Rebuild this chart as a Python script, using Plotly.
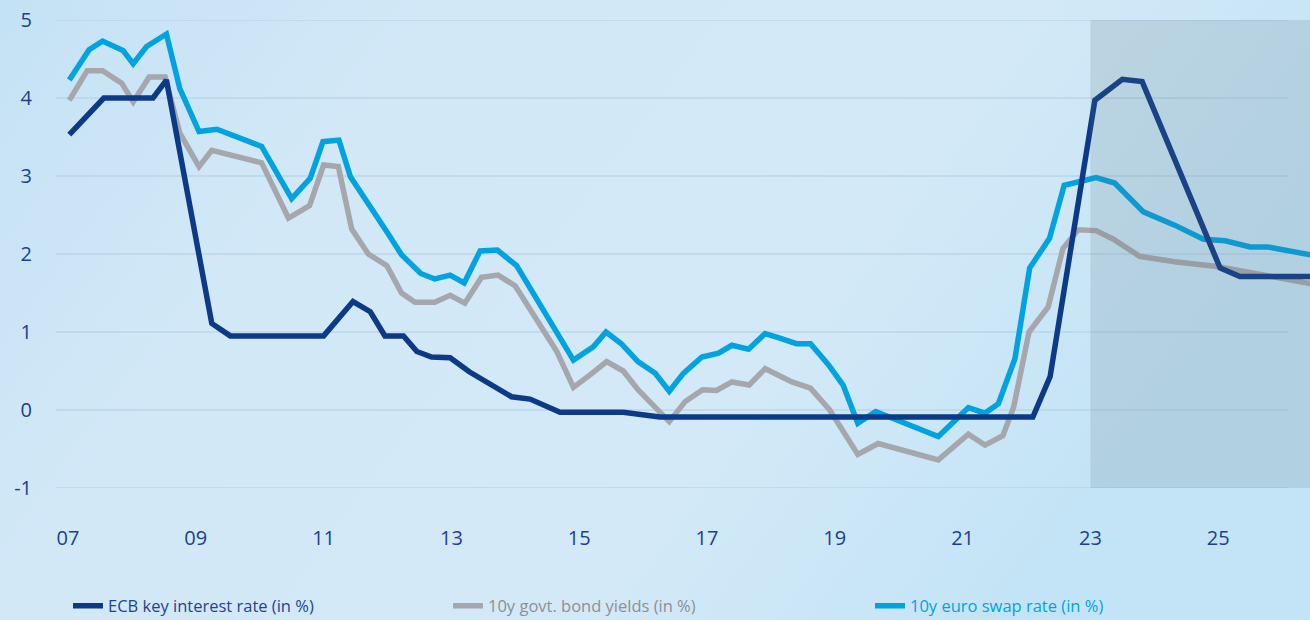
import base64
import plotly.graph_objects as go

# ---------------- data ----------------
ecb_x = [2007.02, 2007.56, 2008.33, 2008.54, 2009.25, 2009.54, 2011.00, 2011.46, 2011.73,
         2011.96, 2012.25, 2012.46, 2012.69, 2012.98, 2013.28, 2013.55, 2013.94, 2014.23,
         2014.70, 2015.69, 2016.26, 2022.10, 2022.37, 2023.07, 2023.50, 2023.81, 2025.03,
         2025.34, 2026.44]
ecb_y = [3.53, 4.00, 4.00, 4.23, 1.11, 0.95, 0.95, 1.39, 1.26,
         0.95, 0.95, 0.75, 0.68, 0.67, 0.49, 0.36, 0.17, 0.14,
         -0.03, -0.03, -0.09, -0.09, 0.43, 3.97, 4.24, 4.21, 1.82,
         1.71, 1.71]

govt_x = [2007.02, 2007.30, 2007.54, 2007.84, 2008.02, 2008.27, 2008.52, 2008.75, 2009.05,
          2009.25, 2010.03, 2010.45, 2010.78, 2011.00, 2011.23, 2011.44, 2011.70, 2011.99,
          2012.22, 2012.43, 2012.74, 2012.98, 2013.21, 2013.47, 2013.73, 2014.00, 2014.65,
          2014.91, 2015.17, 2015.43, 2015.69, 2015.92, 2016.16, 2016.41, 2016.66, 2016.93,
          2017.15, 2017.39, 2017.66, 2017.91, 2018.33, 2018.62, 2018.92, 2019.36, 2019.68,
          2019.99, 2020.33, 2020.62, 2021.09, 2021.35, 2021.63, 2021.80, 2022.04, 2022.34,
          2022.57, 2022.81, 2023.09, 2023.36, 2023.77, 2024.32, 2024.98, 2025.55, 2026.44]
govt_y = [3.97, 4.35, 4.35, 4.19, 3.95, 4.27, 4.27, 3.55, 3.12,
          3.33, 3.17, 2.46, 2.62, 3.14, 3.12, 2.32, 2.00, 1.85,
          1.50, 1.38, 1.38, 1.47, 1.37, 1.70, 1.73, 1.59, 0.75,
          0.29, 0.45, 0.62, 0.50, 0.26, 0.06, -0.15, 0.11, 0.26,
          0.25, 0.36, 0.32, 0.53, 0.36, 0.28, 0.00, -0.57, -0.43,
          -0.50, -0.56, -0.64, -0.31, -0.45, -0.33, 0.04, 1.00, 1.32,
          2.07, 2.31, 2.30, 2.19, 1.97, 1.90, 1.84, 1.75, 1.62]

swap_x = [2007.02, 2007.33, 2007.54, 2007.86, 2008.02, 2008.23, 2008.54, 2008.75, 2009.05,
          2009.33, 2010.03, 2010.50, 2010.79, 2010.99, 2011.24, 2011.42, 2012.01, 2012.22,
          2012.52, 2012.74, 2012.98, 2013.20, 2013.45, 2013.72, 2014.02, 2014.91, 2015.22,
          2015.42, 2015.66, 2015.92, 2016.19, 2016.41, 2016.63, 2016.92, 2017.18, 2017.39,
          2017.65, 2017.91, 2018.14, 2018.40, 2018.62, 2018.90, 2019.13, 2019.36, 2019.64,
          2020.62, 2021.09, 2021.35, 2021.56, 2021.82, 2022.05, 2022.36, 2022.59, 2022.84,
          2023.09, 2023.38, 2023.83, 2024.32, 2024.77, 2025.11, 2025.50, 2025.78, 2026.44]
swap_y = [4.23, 4.62, 4.73, 4.61, 4.44, 4.66, 4.82, 4.12, 3.57,
          3.60, 3.38, 2.71, 2.97, 3.44, 3.46, 2.99, 2.26, 1.99,
          1.75, 1.68, 1.73, 1.63, 2.04, 2.05, 1.85, 0.64, 0.81,
          1.00, 0.85, 0.62, 0.47, 0.24, 0.47, 0.68, 0.73, 0.83,
          0.78, 0.98, 0.92, 0.85, 0.85, 0.58, 0.32, -0.17, -0.02,
          -0.34, 0.03, -0.04, 0.08, 0.66, 1.82, 2.20, 2.88, 2.93,
          2.98, 2.91, 2.54, 2.37, 2.19, 2.17, 2.09, 2.09, 1.99]

tick_years = [2007, 2009, 2011, 2013, 2015, 2017, 2019, 2021, 2023, 2025]
tick_labels = ["07", "09", "11", "13", "15", "17", "19", "21", "23", "25"]
y_ticks = [-1, 0, 1, 2, 3, 4, 5]
y_labels = ["-1", "0", "1", "2", "3", "4", "5"]
forecast_start = 2023

names = ["ECB key interest rate (in %)", "10y govt. bond yields (in %)", "10y euro swap rate (in %)"]
colors = ["#0d3a87", "#a6a7ac", "#00a3e0"]
text_colors = ["#1c4494", "#8e8f94", "#00a3e0"]

# ---------------- layout geometry ----------------
W, H = 1310, 620
ML, MR, MT, MB = 56, 0, 20, 132
PW, PH = W - ML - MR, H - MT - MB
x_range = [2006.812, 2026.437]
grid_end = (1288 - ML) / PW

FONT = "Open Sans"
TICK_COLOR = "#1c3f8e"

fig = go.Figure()

series = [(govt_x, govt_y, 1), (swap_x, swap_y, 2), (ecb_x, ecb_y, 0)]
legend_ids = {0: "legend", 1: "legend2", 2: "legend3"}
for xs, ys, i in series:
    fig.add_trace(go.Scatter(
        x=xs, y=ys, mode="lines",
        name="<span style='color:%s'>%s</span>" % (text_colors[i], names[i]),
        line=dict(color=colors[i], width=5.5),
        legend=legend_ids[i],
        hoverinfo="skip",
    ))

# background gradient as svg image
svg = (
    "<svg xmlns='http://www.w3.org/2000/svg' width='1310' height='620' preserveAspectRatio='none'>"
    "<defs><linearGradient id='g' x1='0' y1='0' x2='1' y2='0.35'>"
    "<stop offset='0' stop-color='#c4e2f5'/>"
    "<stop offset='0.3' stop-color='#d2e8f7'/>"
    "<stop offset='0.7' stop-color='#d3e9f7'/>"
    "<stop offset='1' stop-color='#c3e4f6'/>"
    "</linearGradient></defs>"
    "<rect width='1310' height='620' fill='url(#g)'/></svg>"
)
src = "data:image/svg+xml;base64," + base64.b64encode(svg.encode()).decode()
fig.add_layout_image(dict(
    source=src, xref="paper", yref="paper",
    x=-ML / PW, y=1 + MT / PH, sizex=W / PW, sizey=H / PH,
    xanchor="left", yanchor="top", sizing="stretch", layer="below",
))

# gridlines (stop short of the right edge, as in the reference)
for v in y_ticks:
    fig.add_shape(type="line", xref="paper", yref="y", x0=0, x1=grid_end, y0=v, y1=v,
                  line=dict(color="#b1cce3", width=1.2), layer="below")

# forecast shading (drawn above lines, semi-transparent)
fig.add_shape(type="rect", xref="x", yref="y", x0=forecast_start, x1=x_range[1],
              y0=min(y_ticks), y1=max(y_ticks),
              fillcolor="rgba(90,110,125,0.17)", line=dict(width=0), layer="above")

legend_common = dict(orientation="h", xref="container", yref="container",
                     yanchor="middle", xanchor="left", bgcolor="rgba(0,0,0,0)",
                     font=dict(family=FONT, size=16.5), borderwidth=0)
fig.update_layout(
    width=W, height=H,
    margin=dict(l=ML, r=MR, t=MT, b=MB),
    paper_bgcolor="#d2e8f7",
    plot_bgcolor="rgba(0,0,0,0)",
    font=dict(family=FONT, color=TICK_COLOR),
    showlegend=True,
    legend=dict(x=68 / W, y=1 - 606 / H, **legend_common),
    legend2=dict(x=448 / W, y=1 - 606 / H, **legend_common),
    legend3=dict(x=870 / W, y=1 - 606 / H, **legend_common),
    xaxis=dict(range=x_range, tickvals=tick_years, ticktext=tick_labels,
               showgrid=False, zeroline=False, showline=False, ticks="",
               tickfont=dict(size=20, color=TICK_COLOR, family=FONT),
               ticklabelstandoff=36, fixedrange=True),
    yaxis=dict(range=[-1, 5], tickvals=y_ticks, ticktext=y_labels,
               showgrid=False, zeroline=False, showline=False, ticks="",
               tickfont=dict(size=20, color=TICK_COLOR, family=FONT),
               ticklabelstandoff=23, fixedrange=True),
)

fig.write_html(
    "out.html",
    config={"displayModeBar": False},
    post_script="document.body.style.margin='0';document.body.style.overflow='hidden';",
)
